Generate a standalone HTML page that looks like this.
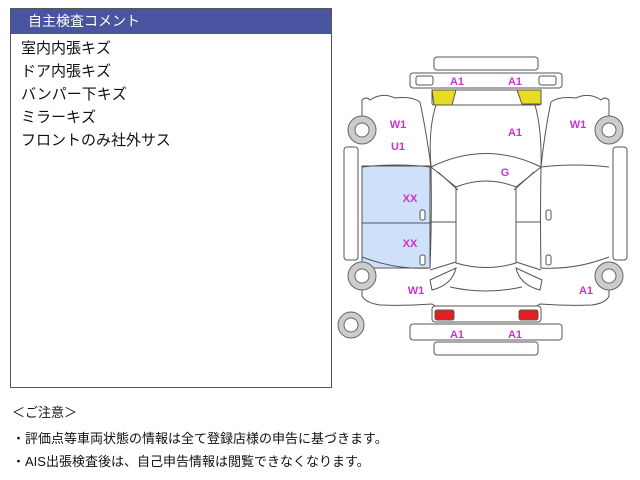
<!DOCTYPE html>
<html><head><meta charset="utf-8"><style>
body{margin:0;width:640px;height:480px;background:#fff;position:relative;overflow:hidden;font-family:"Liberation Sans","Noto Sans CJK JP",sans-serif}
.panel{position:absolute;left:10px;top:8px;width:322px;height:380px;border:1px solid #555;box-sizing:border-box}
.hd{background:#4a55a2;color:#fff;height:25px;line-height:25px;font-size:14px;padding-left:17px}
.it{font-size:15px;color:#111;line-height:23px;padding-left:10px}
.note{position:absolute;left:12px;font-size:13px;color:#111}
</style></head><body>
<div class="panel"><div class="hd">自主検査コメント</div>
<div style="height:3px"></div>
<div class="it">室内内張キズ</div><div class="it">ドア内張キズ</div><div class="it">バンパー下キズ</div><div class="it">ミラーキズ</div><div class="it">フロントのみ社外サス</div></div>
<div class="note" style="top:402px">＜ご注意＞</div>
<div class="note" style="top:428px">・評価点等車両状態の情報は全て登録店様の申告に基づきます。</div>
<div class="note" style="top:451px">・AIS出張検査後は、自己申告情報は閲覧できなくなります。</div>
<svg style="position:absolute;left:0;top:0" width="640" height="480" fill="none" stroke="#555" stroke-width="1">
<rect x="362" y="166" width="68" height="102" fill="#cfe0fb"/>
<line x1="362" y1="223" x2="430" y2="223"/>
<rect x="434" y="57" width="104" height="13" rx="3" fill="#fff"/>
<rect x="410" y="73" width="152" height="15" rx="3" fill="#fff"/>
<rect x="416" y="76" width="17" height="9" rx="2"/><rect x="539" y="76" width="17" height="9" rx="2"/>
<rect x="432" y="90" width="109" height="15" rx="2"/>
<path d="M432 90 H456 L452 105 H434 Z" fill="#e8dc20"/>
<path d="M517 90 H541 V104 H522 Z" fill="#e8dc20"/>
<path d="M436 105 Q428 130 431 167 M535 105 Q542 130 541 167"/>
<path d="M431 167 Q486 140 541 167"/>
<path d="M362 100 Q366 96 370 100 Q382 92 395 98 Q412 96 420 102 Q426 130 431 167 M362 100 V116"/>
<path d="M609 100 Q605 96 601 100 Q589 92 576 98 Q559 96 551 102 Q545 130 541 167 M609 100 V116"/>
<path d="M362 167 Q396 163 431 167 Q432 220 430 268 Q396 270 362 257"/>
<path d="M609 167 Q575 163 541 167 Q540 220 541 268 Q575 270 609 257"/>
<path d="M431 167 L456 187 M541 167 L516 187"/>
<path d="M438 172 L458 190 M534 172 L514 190"/>
<path d="M456 187 Q486 175 516 187 V263 Q486 272 456 263 Z"/>
<path d="M430 222 H456 M516 222 H541 M430 270 L456 262 M541 270 L516 262"/>
<path d="M430 280 L456 268 Q452 285 432 290 Z M542 280 L516 268 Q520 285 540 290 Z"/>
<path d="M450 287 Q486 295 522 287"/>
<path d="M362 285 V296 Q366 303 380 305 Q405 306 432 304 L437 307 H535 L540 304 Q567 306 592 305 Q606 303 609 296 V285"/>
<rect x="344" y="147" width="14" height="113" rx="3"/><rect x="613" y="147" width="14" height="113" rx="3"/>
<g fill="#ccc" stroke="#666"><circle cx="362" cy="130" r="14"/><circle cx="609" cy="130" r="14"/><circle cx="362" cy="276" r="14"/><circle cx="609" cy="276" r="14"/><circle cx="351" cy="325" r="13"/></g>
<g fill="#fff" stroke="#666"><circle cx="362" cy="130" r="7"/><circle cx="609" cy="130" r="7"/><circle cx="362" cy="276" r="7"/><circle cx="609" cy="276" r="7"/><circle cx="351" cy="325" r="7"/></g>
<rect x="432" y="306" width="109" height="16" rx="3" fill="#fff"/>
<rect x="435" y="310" width="19" height="10" rx="2" fill="#e02020"/><rect x="519" y="310" width="19" height="10" rx="2" fill="#e02020"/>
<rect x="410" y="324" width="152" height="16" rx="3" fill="#fff"/>
<rect x="434" y="342" width="104" height="13" rx="3" fill="#fff"/>
<g fill="#fff"><rect x="420" y="210" width="5" height="10" rx="2"/><rect x="420" y="255" width="5" height="10" rx="2"/><rect x="546" y="210" width="5" height="10" rx="2"/><rect x="546" y="255" width="5" height="10" rx="2"/></g>
<g fill="#cc33cc" stroke="none" font-family="Liberation Sans" font-weight="bold" font-size="11" text-anchor="middle">
<text x="457" y="85">A1</text><text x="515" y="85">A1</text><text x="398" y="128">W1</text><text x="578" y="128">W1</text>
<text x="398" y="150">U1</text><text x="515" y="136">A1</text><text x="505" y="176">G</text>
<text x="410" y="202">XX</text><text x="410" y="247">XX</text><text x="416" y="294">W1</text><text x="586" y="294">A1</text>
<text x="457" y="338">A1</text><text x="515" y="338">A1</text></g>
</svg>
</body></html>
